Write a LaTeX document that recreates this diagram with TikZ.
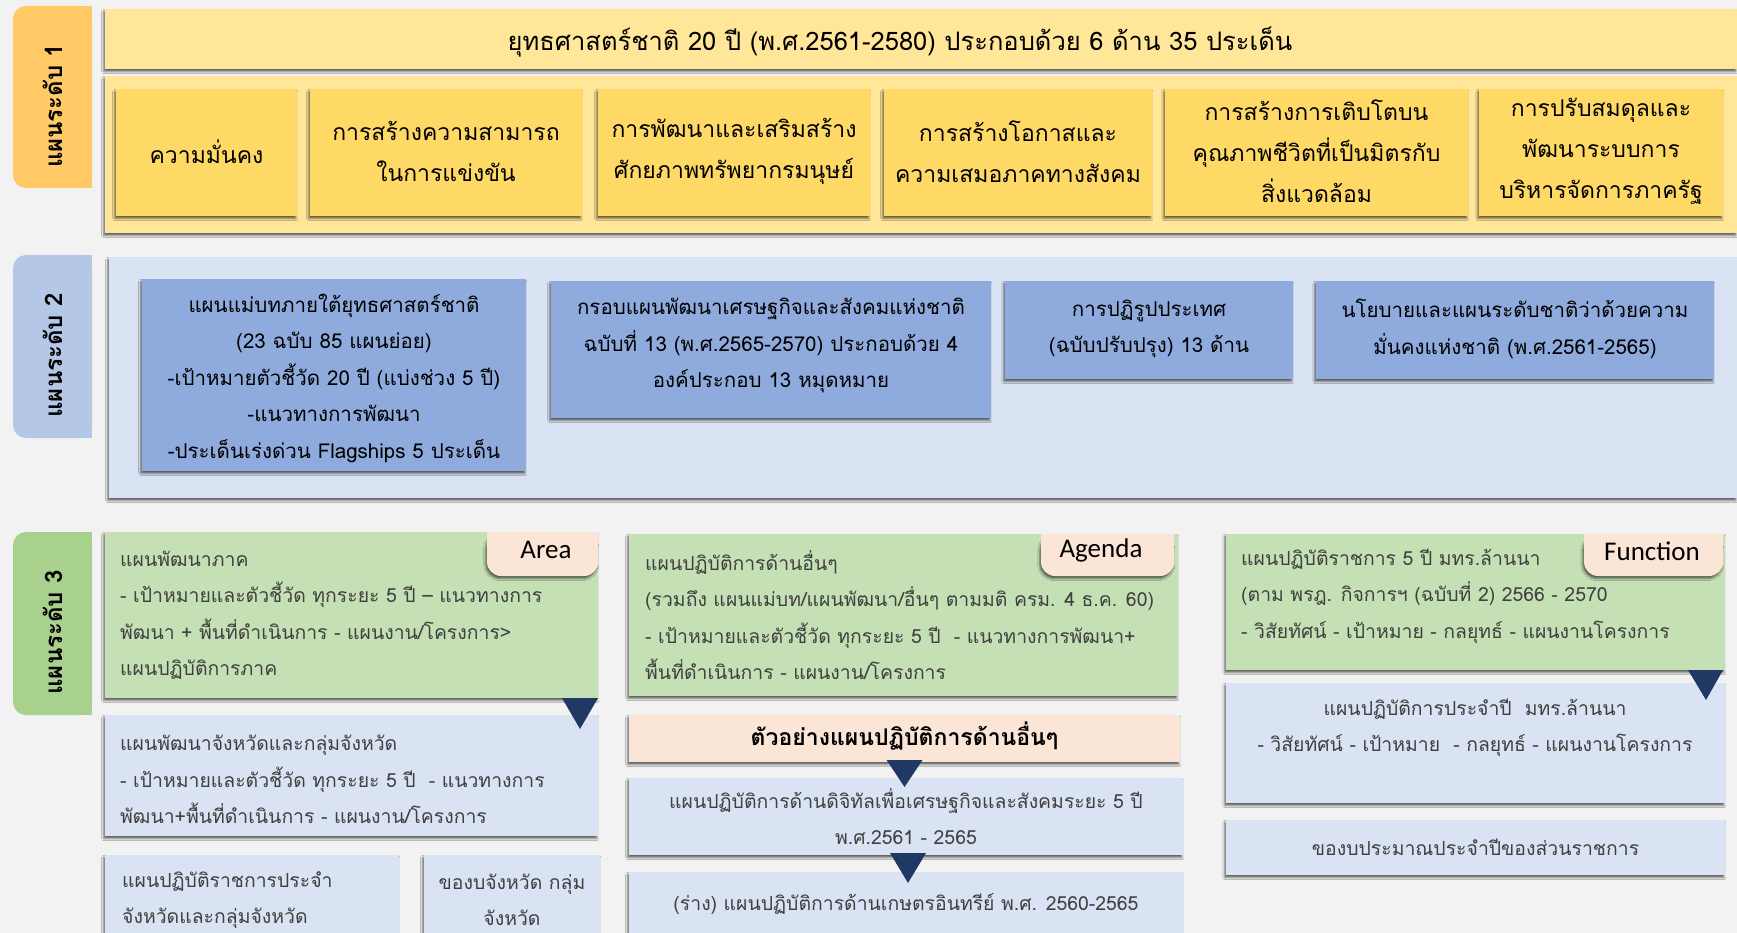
\documentclass[tikz,border=0pt]{standalone}
\usepackage{fontspec}
\setmainfont{Loma}[Script=Thai]
\newfontfamily\tabfont{Carlito}
\usetikzlibrary{fit,calc,shadows.blur}

\definecolor{bgc}{HTML}{F2F2F2}
\definecolor{goldlab}{HTML}{FFC966}
\definecolor{goldpale}{HTML}{FFE699}
\definecolor{goldbox}{HTML}{FFD966}
\definecolor{bluelab}{HTML}{B4C7E7}
\definecolor{bluepale}{HTML}{DAE3F3}
\definecolor{bluebox}{HTML}{8FAADC}
\definecolor{greenlab}{HTML}{A9D18E}
\definecolor{greenbox}{HTML}{C5E0B4}
\definecolor{peach}{HTML}{FBE5D6}
\definecolor{navy}{HTML}{203864}
\definecolor{txtgrey}{HTML}{404040}

\begin{document}
\begin{tikzpicture}[x=1pt,y=-1pt,
  shad/.style={blur shadow={shadow xshift=-1.2pt,shadow yshift=-2.5pt,shadow blur steps=4,shadow opacity=60}},
  area/.style={fit={#1},inner sep=0pt,outer sep=0pt},
  levtag/.style={font=\bfseries\fontsize{24}{26}\selectfont,rotate=90},
  gbox/.style={fill=goldbox,shad},
  gtxt/.style={align=center,font=\fontsize{23}{41}\selectfont},
  bbox/.style={fill=bluebox,shad},
  btxt/.style={align=center,font=\fontsize{20.5}{36.5}\selectfont},
  lbox/.style={fill=bluepale,shad},
  grbox/.style={fill=greenbox,shad},
  txt3/.style={text=txtgrey,font=\fontsize{19.4}{36.5}\selectfont,inner sep=0pt},
  tabtxt/.style={font=\tabfont\fontsize{27}{30}\selectfont,inner sep=0pt},
  tri/.style={fill=navy}]
  \useasboundingbox (0,0) rectangle (1737,933);
  \fill[bgc] (0,0) rectangle (1737,933);
  \clip (0,0) rectangle (1737,933);

  % level 1: national strategy
  \node[area={(13,6) (92,188)},fill=goldlab,rounded corners=13pt] (lab1) {};
  \fill[goldlab] (lab1.north) rectangle (lab1.south east);
  \node[levtag] (lab1t) at ($(lab1)+(0,9)$) {แผนระดับ 1};
  \node[area={(105,9) (1737,69)},fill=goldpale,shad] (title) {};
  \node[font=\fontsize{25.5}{28}\selectfont] (titlet) at (900,42)
    {ยุทธศาสตร์ชาติ 20 ปี (พ.ศ.2561-2580) ประกอบด้วย 6 ด้าน 35 ประเด็น};
  \node[area={(105,76) (1737,233)},fill=goldpale,shad] (band1) {};
  \foreach \n/\xa/\xb/\txt in {
      1/116/297/{ความมั่นคง},
      2/310/582/{การสร้างความสามารถ\\ในการแข่งขัน},
      3/598/870/{การพัฒนาและเสริมสร้าง\\ศักยภาพทรัพยากรมนุษย์},
      4/884/1152/{การสร้างโอกาสและ\\ความเสมอภาคทางสังคม},
      5/1165/1468/{การสร้างการเติบโตบน\\คุณภาพชีวิตที่เป็นมิตรกับ\\สิ่งแวดล้อม},
      6/1479/1723/{การปรับสมดุลและ\\พัฒนาระบบการ\\บริหารจัดการภาครัฐ}}
  {
    \node[gbox,area={(\xa,89) (\xb,216)}] (s\n) {};
    \node[gtxt] (st\n) at ($(s\n)+(0,-1)$) {\txt};
  }

  % level 2: master plans
  \node[area={(13,255) (92,438)},fill=bluelab,rounded corners=13pt] (lab2) {};
  \fill[bluelab] (lab2.north) rectangle (lab2.south east);
  \node[levtag] (lab2t) at ($(lab2)+(0,9)$) {แผนระดับ 2};
  \node[area={(109,257) (1737,498)},fill=bluepale,shad] (band2) {};
  \foreach \n/\xa/\ya/\xb/\yb/\dy/\txt in {
      1/142/279/526/471/3/{แผนแม่บทภายใต้ยุทธศาสตร์ชาติ\\(23 ฉบับ 85 แผนย่อย)\\-เป้าหมายตัวชี้วัด 20 ปี (แบ่งช่วง 5 ปี)\\-แนวทางการพัฒนา\\-ประเด็นเร่งด่วน Flagships 5 ประเด็น},
      2/551/281/991/418/-4/{กรอบแผนพัฒนาเศรษฐกิจและสังคมแห่งชาติ\\ฉบับที่ 13 (พ.ศ.2565-2570) ประกอบด้วย 4\\องค์ประกอบ 13 หมุดหมาย},
      3/1005/281/1293/379/-1/{การปฏิรูปประเทศ\\(ฉบับปรับปรุง) 13 ด้าน},
      4/1316/281/1714/379/-1/{นโยบายและแผนระดับชาติว่าด้วยความ\\มั่นคงแห่งชาติ (พ.ศ.2561-2565)}}
  {
    \node[bbox,area={(\xa,\ya) (\xb,\yb)}] (m\n) {};
    \node[btxt] (mt\n) at ($(m\n)+(0,\dy)$) {\txt};
  }

  % level 3: action plans
  \node[area={(13,532) (92,715)},fill=greenlab,rounded corners=13pt] (lab3) {};
  \fill[greenlab] (lab3.north) rectangle (lab3.south east);
  \node[levtag] (lab3t) at ($(lab3)+(0,9)$) {แผนระดับ 3};

  % area column
  \node[grbox,area={(105,532) (598,698)}] (reg) {};
  \fill[peach,shad,rounded corners=14pt] (487,532) rectangle (598,576);
  \fill[peach] (487,532) rectangle (598,552);
  \node[tabtxt] (regtab) at (546,550) {Area};
  \node[txt3,anchor=west,align=left] (regt) at ($(reg.west)+(15,0)$)
    {แผนพัฒนาภาค\\- เป้าหมายและตัวชี้วัด ทุกระยะ 5 ปี – แนวทางการ\\พัฒนา + พื้นที่ดำเนินการ - แผนงาน/โครงการ>\\แผนปฏิบัติการภาค};
  \node[lbox,area={(105,715) (598,836)}] (prov) {};
  \node[txt3,anchor=west,align=left] (provt) at ($(prov.west)+(15,4)$)
    {แผนพัฒนาจังหวัดและกลุ่มจังหวัด\\- เป้าหมายและตัวชี้วัด ทุกระยะ 5 ปี \ - แนวทางการ\\พัฒนา+พื้นที่ดำเนินการ - แผนงาน/โครงการ};
  \node[lbox,area={(105,855) (399,945)}] (provop) {};
  \node[txt3,anchor=west,align=left] (provopt) at ($(provop.west)+(17,0)$)
    {แผนปฏิบัติราชการประจำ\\จังหวัดและกลุ่มจังหวัด};
  \node[lbox,area={(424,855) (600,945)}] (provbud) {};
  \node[txt3,align=center] (provbudt) at (provbud) {ของบจังหวัด กลุ่ม\\จังหวัด};
  \fill[tri] ($(reg.south east)+(-36,0)$) -- (reg.south east) -- ($(reg.south east)+(-18,31)$) -- cycle;

  % agenda column
  \node[grbox,area={(629,534) (1178,696)}] (oth) {};
  \fill[peach,shad,rounded corners=14pt] (1041,534) rectangle (1174,576);
  \fill[peach] (1041,534) rectangle (1174,554);
  \node[tabtxt] (othtab) at (1101,550) {Agenda};
  \node[txt3,anchor=west,align=left] (otht) at ($(oth.west)+(16,0)$)
    {แผนปฏิบัติการด้านอื่นๆ\\(รวมถึง แผนแม่บท/แผนพัฒนา/อื่นๆ ตามมติ ครม. 4 ธ.ค. 60)\\- เป้าหมายและตัวชี้วัด ทุกระยะ 5 ปี \ - แนวทางการพัฒนา+\\พื้นที่ดำเนินการ - แผนงาน/โครงการ};
  \node[area={(629,715) (1180,762)},fill=peach,shad] (ex) {};
  \node[font=\bfseries\fontsize{23}{26}\selectfont] (ext) at ($(ex)+(0,-2)$) {ตัวอย่างแผนปฏิบัติการด้านอื่นๆ};
  \node[lbox,area={(629,778) (1183,855)}] (dig) {};
  \node[txt3,align=center] (digt) at (dig) {แผนปฏิบัติการด้านดิจิทัลเพื่อเศรษฐกิจและสังคมระยะ 5 ปี\\พ.ศ.2561 - 2565};
  \node[lbox,area={(629,872) (1183,940)}] (org) {};
  \node[txt3] (orgt) at ($(org)+(0,-2)$) {(ร่าง) แผนปฏิบัติการด้านเกษตรอินทรีย์ พ.ศ. 2560-2565};
  \fill[tri] ($(ex.south)+(-18,-2)$) -- ($(ex.south)+(18,-2)$) -- ($(ex.south)+(0,25)$) -- cycle;
  \fill[tri] ($(dig.south)+(-16,-2)$) -- ($(dig.south)+(20,-2)$) -- ($(dig.south)+(2,28)$) -- cycle;

  % function column
  \node[grbox,area={(1226,534) (1725,670)}] (rmu) {};
  \fill[peach,shad,rounded corners=14pt] (1584,534) rectangle (1723,576);
  \fill[peach] (1584,534) rectangle (1723,554);
  \node[tabtxt] (rmutab) at (1652,551) {Function};
  \node[txt3,anchor=west,align=left] (rmut) at ($(rmu.west)+(15,-6)$)
    {แผนปฏิบัติราชการ 5 ปี มทร.ล้านนา\\(ตาม พรฎ. กิจการฯ (ฉบับที่ 2) 2566 - 2570\\- วิสัยทัศน์ - เป้าหมาย - กลยุทธ์ - แผนงานโครงการ};
  \node[lbox,area={(1226,683) (1725,803)}] (rmuy) {};
  \node[txt3,align=center] (rmuyt) at (1475,728)
    {แผนปฏิบัติการประจำปี \ มทร.ล้านนา\\- วิสัยทัศน์ - เป้าหมาย \ - กลยุทธ์ - แผนงานโครงการ};
  \node[lbox,area={(1226,820) (1725,875)}] (bud) {};
  \node[txt3] (budt) at (bud) {ของบประมาณประจำปีของส่วนราชการ};
  \fill[tri] ($(rmu.south east)+(-37,0)$) -- ($(rmu.south east)+(-2,0)$) -- ($(rmu.south east)+(-19,30)$) -- cycle;
\end{tikzpicture}
\end{document}
